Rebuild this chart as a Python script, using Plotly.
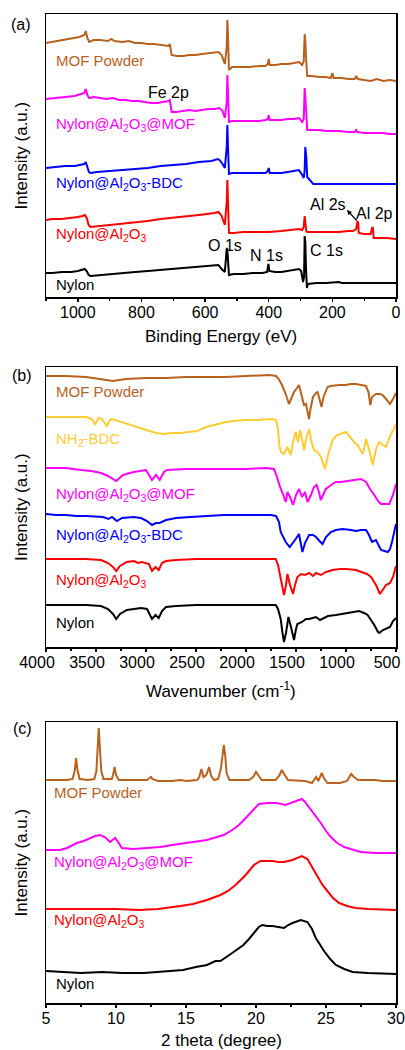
import plotly.graph_objects as go

# ---------------- Panel (a): XPS survey (Binding energy eV, intensity a.u.) ----------------
xps_mof_x = [1100,1060,1020,995,980,975,970,964,950,930,905,895,885,860,840,820,800,780,760,740,725,715,711,708,705,690,670,650,630,610,590,570,558,548,538,532,530,528,525,515,490,460,430,410,403,400,397,380,360,340,320,305,295,290,287,285,282,279,265,240,220,205,200,196,170,150,130,125,120,100,80,60,40,20,0]
xps_mof_y = [254,256,258,260,262,266,259,255,257,257,256,258,256,255,256,254,254,253,253,252,252,251,253,246,242,241,241,242,242,243,244,245,245,242,233,250,277,262,227,230,230,230,231,231,233,238,232,232,233,233,234,235,232,236,263,256,235,221,221,220,220,219,224,219,219,218,218,221,218,217,216,218,216,217,216]

xps_pink_x = [1100,1070,1040,1010,990,980,975,970,964,950,930,910,890,870,850,830,810,790,770,750,730,715,711,708,705,690,670,650,630,610,590,570,555,545,538,532,530,528,525,515,490,460,430,410,403,400,397,380,360,340,320,305,295,290,287,285,282,279,260,240,220,200,180,150,130,125,121,100,80,60,40,20,0]
xps_pink_y = [198,199,200,201,203,204,208,202,199,200,199,198,199,197,197,196,196,195,194,194,195,196,197,190,185,185,186,187,186,187,188,188,189,186,179,195,222,205,175,176,176,176,176,177,178,182,177,177,177,178,178,179,175,178,209,200,180,167,167,167,166,166,166,165,165,167,165,164,164,164,164,163,163]

xps_blue_x = [1100,1070,1040,1010,990,980,975,970,965,960,940,900,860,820,780,740,700,660,620,580,560,555,545,538,532,530,528,525,515,490,460,430,410,403,400,397,380,360,340,320,305,295,290,287,285,282,279,260,240,200,150,100,50,0]
xps_blue_y = [129,130,131,131,132,133,135,130,125,124,125,126,127,128,129,131,132,133,135,136,138,137,133,129,150,172,150,123,124,124,124,124,124,126,129,124,124,124,125,126,127,122,119,127,150,140,120,113,113,113,113,113,113,113]

xps_red_x = [1100,1080,1050,1020,1000,985,978,972,966,960,930,900,860,820,780,740,700,680,650,620,590,570,558,548,538,532,530,528,525,510,480,440,400,360,320,305,295,290,287,285,282,279,250,220,180,150,135,125,121,119,117,100,80,75,73,70,50,30,0]
xps_red_y = [77,78,78,79,80,81,82,79,72,70,71,72,73,75,76,78,79,80,81,82,83,84,85,81,72,95,117,95,64,64,65,65,65,66,67,68,67,70,81,75,66,65,65,65,65,66,66,68,76,74,64,63,63,69,70,59,59,59,58]

xps_nylon_x = [1100,1080,1050,1020,1000,985,978,972,966,960,930,900,860,820,780,740,700,660,620,590,570,558,548,538,534,532,530,528,525,510,480,450,420,405,401,398,380,360,340,320,305,298,292,289,287,285,283,280,277,250,220,180,170,150,120,100,50,0]
xps_nylon_y = [24,24,25,25,26,27,28,26,22,21,22,23,24,25,26,27,28,29,30,31,31,32,28,25,40,49,47,30,22,23,23,24,24,25,33,26,25,25,26,27,28,26,15,20,61,55,30,9,13,14,14,15,14,14,14,14,14,14]

# ---------------- Panel (b): FTIR (Wavenumber cm-1, transmittance a.u.) ----------------
ftir_mof_x = [4000,3800,3600,3450,3330,3200,3000,2800,2600,2400,2200,2000,1850,1760,1700,1673,1640,1603,1570,1545,1520,1490,1470,1445,1420,1400,1385,1370,1355,1330,1300,1285,1265,1245,1225,1185,1150,1100,1068,1000,950,900,850,800,775,757,740,700,660,633,600,560,530,500]
ftir_mof_y = [271,271,270,268,266,268,269,269,270,270,270,271,272,272,271,268,262,253,243,250,255,259,262,252,242,243,235,228,238,250,254,255,248,240,250,260,261,262,262,262,263,263,262,261,255,242,250,253,253,252,248,243,248,254]

ftir_bdc_x = [4000,3800,3600,3542,3509,3475,3440,3392,3360,3341,3250,3150,3090,3000,2900,2824,2740,2656,2560,2489,2400,2322,2200,2122,2000,1887,1800,1737,1700,1680,1665,1650,1620,1586,1553,1530,1503,1480,1459,1440,1419,1395,1369,1345,1320,1285,1250,1225,1209,1180,1134,1090,1051,1001,960,920,884,834,815,800,770,733,700,667,630,600,575,550,520,500]
ftir_bdc_y = [230,230,230,228,223,229,228,221,227,228,225,222,220,217,214,213,214,214,215,216,220,222,225,226,227,227,228,228,227,218,200,195,193,200,192,205,215,205,217,208,197,210,218,205,197,195,190,182,178,192,207,212,213,215,210,205,202,193,200,208,198,182,198,205,202,200,207,213,218,223]

ftir_pink_x = [4000,3800,3650,3545,3450,3380,3298,3230,3124,3050,3000,2940,2900,2863,2820,2790,2600,2400,2200,2000,1800,1720,1690,1660,1630,1603,1585,1560,1530,1500,1470,1440,1410,1385,1350,1320,1295,1270,1252,1230,1202,1150,1101,1050,968,900,851,800,760,717,680,650,610,567,530,500]
ftir_pink_y = [179,179,177,176,174,171,166,172,175,176,177,167,172,167,175,177,178,178,178,178,179,178,170,160,153,145,155,150,142,152,158,150,155,145,152,160,162,155,147,152,158,162,165,165,166,167,168,165,158,152,146,143,143,143,152,163]

ftir_blue_x = [4000,3900,3800,3700,3600,3500,3430,3375,3340,3291,3240,3124,3050,2990,2940,2900,2863,2800,2700,2556,2400,2222,2000,1850,1753,1700,1670,1653,1603,1563,1530,1503,1470,1450,1436,1410,1369,1330,1300,1265,1235,1200,1152,1100,1035,950,900,850,800,770,740,700,670,650,583,560,540,520,500]
ftir_blue_y = [133,132,132,131,131,130,130,128,130,126,129,130,129,126,122,124,124,127,129,130,131,132,132,132,132,131,125,115,105,100,104,108,113,104,95,104,112,112,110,106,103,110,115,117,118,117,116,117,117,112,105,107,100,97,95,98,105,113,123]

ftir_red_x = [4000,3800,3600,3450,3380,3330,3298,3260,3191,3120,3080,3040,2970,2940,2905,2873,2840,2800,2700,2500,2300,2000,1800,1703,1680,1653,1635,1620,1600,1586,1560,1530,1510,1486,1450,1410,1369,1330,1300,1252,1200,1134,1060,1001,900,834,790,750,700,660,630,600,560,530,500]
ftir_red_y = [88,88,88,87,84,80,76,81,85,86,84,85,83,76,80,77,84,86,87,88,88,88,88,88,82,68,58,52,62,73,62,53,62,70,73,72,74,71,74,72,75,77,78,78,77,75,73,70,62,53,57,62,64,70,81]

ftir_nylon_x = [4000,3800,3600,3450,3380,3330,3298,3260,3191,3120,3050,2990,2940,2905,2873,2840,2800,2700,2500,2300,2000,1800,1703,1680,1653,1635,1620,1600,1576,1550,1520,1500,1486,1440,1400,1369,1330,1300,1260,1219,1180,1101,1000,940,868,820,784,750,717,680,667,630,600,560,530,510,500]
ftir_nylon_y = [42,42,42,41,38,33,28,33,37,38,39,38,28,32,29,36,40,41,42,42,42,42,42,38,28,14,5,14,30,20,7,18,23,25,28,28,29,30,27,29,31,32,34,35,36,34,32,27,22,15,14,17,18,20,26,28,29]

# ---------------- Panel (c): XRD (2 theta degree, intensity a.u.) ----------------
xrd_mof_x = [5.0,6.5,6.9,7.05,7.15,7.25,7.4,8.0,8.45,8.6,8.7,8.77,8.85,8.95,9.1,9.7,9.82,9.9,10.0,10.2,11.0,12.2,12.4,12.5,12.6,13.0,14.0,14.6,15.0,15.8,15.95,16.1,16.25,16.45,16.65,16.8,17.0,17.3,17.5,17.62,17.7,17.8,17.9,18.1,19.5,19.8,20.0,20.15,20.4,21.4,21.65,21.85,22.0,22.3,23.5,24.0,24.2,24.3,24.45,24.6,24.7,24.85,25.1,26.0,26.5,26.8,27.0,27.3,28.5,29.0,30.0]
xrd_mof_y = [223,223,224,232,245,233,224,223,224,232,258,275,255,232,224,224,230,236,228,223,223,223,225,226,224,222,222,223,222,223,226,234,226,228,236,227,223,224,235,252,258,248,230,223,223,226,231,228,223,223,227,233,229,223,222,220,224,226,222,227,230,225,220,220,222,229,226,223,223,222,222]

xrd_pink_x = [5.0,6.0,6.5,7.2,7.7,8.15,8.5,8.87,9.2,9.58,9.94,10.2,10.42,11.25,12.0,13.17,14.0,15.08,16.0,16.5,17.2,17.7,18.3,18.78,19.2,19.6,20.0,20.2,20.8,21.5,22.1,22.7,23.0,23.27,23.5,23.67,24.0,24.3,24.63,25.0,25.34,25.8,26.3,27.0,27.5,28.5,30.0]
xrd_pink_y = [153,153,155,160,162,165,167,168,166,161,165,160,155,154,155,156,158,160,162,163,166,168,173,178,184,190,197,199,200,200,198,201,203,204,201,198,192,186,180,172,166,160,156,153,151,150,150]

xrd_red_x = [5.0,6.0,8.0,10.0,11.7,13.0,14.6,15.5,16.5,17.1,17.46,18.0,18.54,19.26,19.85,20.33,20.8,21.17,21.6,22.0,22.6,23.0,23.27,23.67,24.0,24.4,24.75,25.1,25.5,25.94,26.5,27.1,28.0,30.0]
xrd_red_y = [94,94,94,94,93,94,97,99,103,106,108,112,118,128,138,142,142,142,141,141,143,145,147,144,136,125,118,112,105,100,97,95,94,93]

xrd_nylon_x = [5.0,6.0,7.5,9.0,10.5,12.0,12.9,14.0,14.8,15.7,16.5,17.1,17.46,18.3,19.1,19.5,19.85,20.2,20.45,20.8,21.17,21.76,22.0,22.3,22.6,23.2,23.67,24.0,24.27,24.86,25.3,25.7,26.3,26.9,28.0,30.0]
xrd_nylon_y = [32,31,30,31,30,30,31,32,33,36,38,42,42,50,58,64,70,76,78,77,77,76,75,78,80,83,81,74,65,52,44,38,34,31,30,29]

# ---------------- Styling ----------------
BROWN = "#B8621E"
PINK = "#FF00FF"
BLUE = "#0000FF"
RED = "#FF0000"
BLACK = "#000000"
YELLOW = "#FFCC33"
FONT = "Liberation Sans, Arial, sans-serif"

W, H = 405, 1050
ML, MR = 46, 9
PW = W - ML - MR


def px(xp):
    return (xp - ML) / PW


def py(yp):
    return 1 - yp / H


fig = go.Figure()


def add(x, y, color, xa, ya):
    fig.add_trace(go.Scatter(x=x, y=y, mode="lines", line=dict(color=color, width=2),
                             xaxis=xa, yaxis=ya, showlegend=False, hoverinfo="skip"))


add(xps_nylon_x, xps_nylon_y, BLACK, "x", "y")
add(xps_red_x, xps_red_y, RED, "x", "y")
add(xps_blue_x, xps_blue_y, BLUE, "x", "y")
add(xps_pink_x, xps_pink_y, PINK, "x", "y")
add(xps_mof_x, xps_mof_y, BROWN, "x", "y")

add(ftir_nylon_x, ftir_nylon_y, BLACK, "x2", "y2")
add(ftir_red_x, ftir_red_y, RED, "x2", "y2")
add(ftir_blue_x, ftir_blue_y, BLUE, "x2", "y2")
add(ftir_pink_x, ftir_pink_y, PINK, "x2", "y2")
add(ftir_bdc_x, ftir_bdc_y, YELLOW, "x2", "y2")
add(ftir_mof_x, ftir_mof_y, BROWN, "x2", "y2")

add(xrd_nylon_x, xrd_nylon_y, BLACK, "x3", "y3")
add(xrd_red_x, xrd_red_y, RED, "x3", "y3")
add(xrd_pink_x, xrd_pink_y, PINK, "x3", "y3")
add(xrd_mof_x, xrd_mof_y, BROWN, "x3", "y3")

# panel pixel frames (top, bottom)
PA = (14, 297)
PB = (367, 647)
PC = (722, 1003)


def xaxis(rng, dtick, minor, anchor, shift=0):
    return dict(domain=[0, 1], anchor=anchor, range=rng, dtick=dtick, tick0=0,
                showline=True, linecolor="black", linewidth=1.5, mirror=True,
                ticks="outside", ticklen=3, tickwidth=1.5, tickcolor="black",
                minor=dict(dtick=minor, ticks="outside", ticklen=2, tickwidth=1.2, tickcolor="black"),
                showgrid=False, zeroline=False, ticklabelshift=shift,
                ticklabelstandoff=-3, ticklabeloverflow="allow",
                tickfont=dict(family=FONT, size=16, color="black"))


def yaxis(frame, rng, anchor):
    return dict(domain=[py(frame[1]), py(frame[0])], anchor=anchor, range=rng,
                showline=True, linecolor="black", linewidth=1.5, mirror=True,
                ticks="", showticklabels=False, showgrid=False, zeroline=False)


fig.update_layout(
    width=W, height=H, autosize=False,
    margin=dict(l=ML, r=MR, t=0, b=0),
    paper_bgcolor="white", plot_bgcolor="white",
    xaxis=xaxis([1100, 0], 200, 100, "y"),
    yaxis=yaxis(PA, [0, 283], "x"),
    xaxis2=xaxis([4000, 500], 500, 250, "y2", shift=9),
    yaxis2=yaxis(PB, [0, 280], "x2"),
    xaxis3=xaxis([5, 30], 5, 2.5, "y3"),
    yaxis3=yaxis(PC, [0, 281], "x3"),
)

ann = []


def text(t, xp, yp, size=15, color="black", xanchor="left", angle=0):
    ann.append(dict(text=t, x=px(xp), y=py(yp), xref="paper", yref="paper",
                    xanchor=xanchor, yanchor="middle", showarrow=False, textangle=angle,
                    font=dict(family=FONT, size=size, color=color)))


# panel letters
text("(a)", 21, 24, 16, xanchor="center")
text("(b)", 22, 375, 16, xanchor="center")
text("(c)", 22, 728, 16, xanchor="center")

# y titles
for fr in (PA, PB, PC):
    text("Intensity (a.u.)", 21, (fr[0] + fr[1]) / 2, 17, xanchor="center", angle=-90)

# x titles
text("Binding Energy (eV)", 221, 336, 17, xanchor="center")
text("Wavenumber (cm<sup>-1</sup>)", 221, 690, 17, xanchor="center")
text("2 theta (degree)", 221, 1040, 17, xanchor="center")

# panel (a) labels
text("MOF Powder", 54, 61, 15, BROWN)
text("Nylon@Al<sub>2</sub>O<sub>3</sub>@MOF", 54, 124, 15, PINK)
text("Nylon@Al<sub>2</sub>O<sub>3</sub>-BDC", 54, 184, 15, BLUE)
text("Nylon@Al<sub>2</sub>O<sub>3</sub>", 54, 235, 15, RED)
text("Nylon", 54, 285, 15, BLACK)
text("Fe 2p", 168, 93, 16, xanchor="center")
text("O 1s", 225, 245, 16, xanchor="center")
text("N 1s", 266, 255, 16, xanchor="center")
text("C 1s", 326, 250, 16, xanchor="center")
text("Al 2s", 328, 205, 16, xanchor="center")
text("Al 2p", 374, 213, 16, xanchor="center")
ann.append(dict(x=px(347), y=py(210), xref="paper", yref="paper", ax=11, ay=12,
                text="", showarrow=True, arrowhead=2, arrowsize=0.8, arrowwidth=1.2,
                arrowcolor="black"))

# panel (b) labels
text("MOF Powder", 54, 392, 15, BROWN)
text("NH<sub>2</sub>-BDC", 54, 439, 15, YELLOW)
text("Nylon@Al<sub>2</sub>O<sub>3</sub>@MOF", 54, 494, 15, PINK)
text("Nylon@Al<sub>2</sub>O<sub>3</sub>-BDC", 54, 535, 15, BLUE)
text("Nylon@Al<sub>2</sub>O<sub>3</sub>", 54, 580, 15, RED)
text("Nylon", 54, 622, 15, BLACK)

# panel (c) labels
text("MOF Powder", 52, 792, 15, BROWN)
text("Nylon@Al<sub>2</sub>O<sub>3</sub>@MOF", 52, 862, 15, PINK)
text("Nylon@Al<sub>2</sub>O<sub>3</sub>", 52, 920, 15, RED)
text("Nylon", 54, 983, 15, BLACK)

fig.update_layout(annotations=ann)

fig.write_html("out.html", config={"displayModeBar": False, "staticPlot": True},
               post_script="document.body.style.margin='0px';document.body.style.overflow='hidden';")
